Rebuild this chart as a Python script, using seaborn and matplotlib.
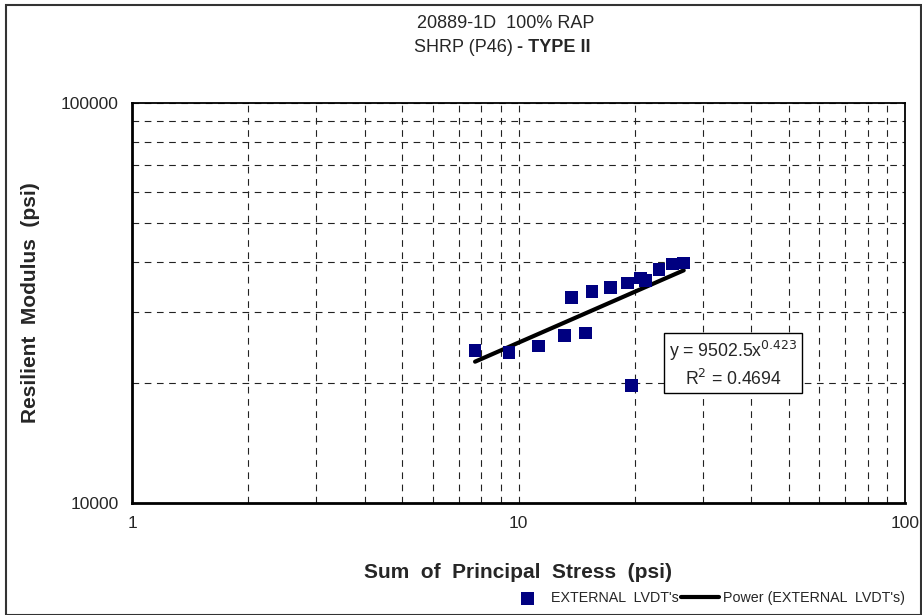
import numpy as np
import pandas as pd
import seaborn as sns
import matplotlib.pyplot as plt
from matplotlib.patches import Rectangle
from matplotlib.ticker import NullFormatter, LogLocator

# data
stress = [7.72, 9.45, 11.28, 13.14, 13.70, 14.89, 15.49, 17.28, 19.12, 20.66, 21.34, 23.10, 25.0, 26.76, 19.63]
modulus = [24100, 23800, 24700, 26200, 32700, 26600, 33800, 34600, 35500, 36500, 36000, 38400, 39600, 39800, 19650]

# power trendline as shown on the chart
coef_a = 9502.5
coef_b = 0.423

df = pd.DataFrame({'stress': stress, 'modulus': modulus})
x_fit = np.linspace(min(stress), max(stress), 50)
df_fit = pd.DataFrame({'stress': x_fit, 'modulus': coef_a * x_fit ** coef_b})

sns.set_style('white')
plt.rcParams['font.family'] = ['Liberation Sans', 'DejaVu Sans']

W, H = 922, 615
fig = plt.figure(figsize=(W / 100, H / 100), dpi=100)
ax = fig.add_axes([132 / W, 112 / H, 773 / W, 400 / H])

sns.lineplot(data=df_fit, x='stress', y='modulus', ax=ax, color='black', linewidth=3,
             label="Power (EXTERNAL  LVDT's)", legend=False, zorder=3)
sns.scatterplot(data=df, x='stress', y='modulus', ax=ax, marker='s', s=85, color='#000080',
                edgecolor='none', label="EXTERNAL  LVDT's", legend=False, zorder=4)

ax.set_xscale('log')
ax.set_yscale('log')
ax.set_xlim(1, 100)
ax.set_ylim(10000, 100000)
ax.set_xticks([1, 10, 100], labels=['1', '10', '100'])
ax.set_yticks([10000, 100000], labels=['10000', '100000'])
ax.xaxis.set_minor_locator(LogLocator(base=10, subs=np.arange(2, 10)))
ax.yaxis.set_minor_locator(LogLocator(base=10, subs=np.arange(2, 10)))
ax.xaxis.set_minor_formatter(NullFormatter())
ax.yaxis.set_minor_formatter(NullFormatter())
ax.tick_params(which='major', direction='inout', length=7, width=1, labelsize=12.5, pad=6, color='black')
ax.tick_params(which='minor', length=0)
ax.grid(True, which='both', color='#222222', linestyle=(0, (6, 5)), linewidth=0.8)
for sp in ax.spines.values():
    sp.set_color('black')
    sp.set_linewidth(1.3)
ax.spines['left'].set_linewidth(2)
ax.spines['bottom'].set_linewidth(2)

ax.set_xlabel('')
ax.set_ylabel('')
fig.text(518 / W, 1 - 572 / H, 'Sum  of  Principal  Stress  (psi)', ha='center', va='center',
         fontsize=15, fontweight='heavy')
fig.text(31 / W, 1 - 303 / H, 'Resilient  Modulus  (psi)', ha='center', va='center',
         rotation=90, fontsize=15, fontweight='heavy')

fig.text(506 / W, 1 - 24 / H, '20889-1D  100% RAP', ha='center', va='center', fontsize=13)
fig.text(513 / W, 1 - 47 / H, 'SHRP (P46)', ha='right', va='center', fontsize=13)
fig.text(517 / W, 1 - 47 / H, '- TYPE II', ha='left', va='center', fontsize=13, fontweight='bold')

ax.text(733 / W, 1 - 364 / H, 'y = 9502.5x$^{0.423}$\nR$^2$ = 0.4694', transform=fig.transFigure,
        ha='center', va='center', fontsize=12.7, linespacing=1.35,
        bbox=dict(boxstyle='square,pad=0.25', facecolor='white', edgecolor='black', linewidth=1))

handles, labels = ax.get_legend_handles_labels()
order = [labels.index("EXTERNAL  LVDT's"), labels.index("Power (EXTERNAL  LVDT's)")]
fig.legend([handles[i] for i in order], [labels[i] for i in order], loc='center',
           bbox_to_anchor=(707 / W, 1 - 598 / H), ncol=2, frameon=False, fontsize=10.3,
           handlelength=2.6, columnspacing=0.2, handletextpad=0.3, markerscale=1.0)

fig.patches.append(Rectangle((6 / W, 0), (W - 7) / W, 1 - 5 / H, transform=fig.transFigure,
                             fill=False, edgecolor='#333333', linewidth=1.5))

fig.savefig('out.png', dpi=100)
